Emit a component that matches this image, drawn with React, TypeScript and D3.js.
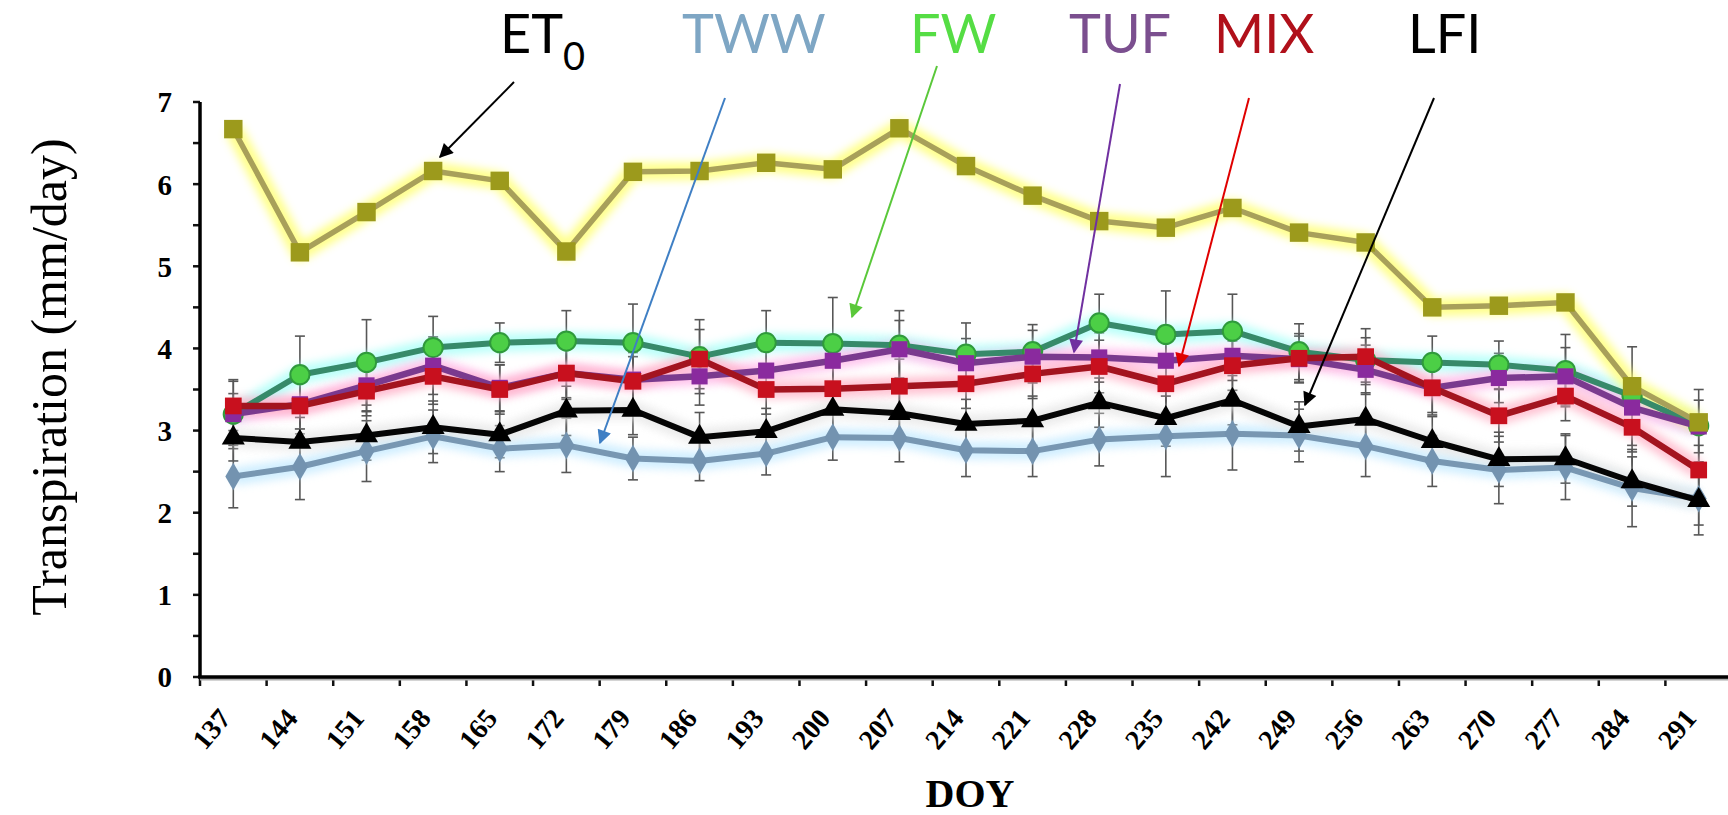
import React, { useEffect, useRef } from 'react';
import * as d3 from 'd3';

// day of year, one sample per week
const doy = [137, 144, 151, 158, 165, 172, 179, 186, 193, 200, 207, 214, 221, 228, 235, 242, 249, 256, 263, 270, 277, 284, 291];

const et0 = [6.67, 5.17, 5.66, 6.16, 6.04, 5.18, 6.15, 6.16, 6.26, 6.18, 6.68, 6.22, 5.86, 5.55, 5.47, 5.71, 5.41, 5.29, 4.5, 4.52, 4.56, 3.54, 3.1];
const fw = [3.2, 3.68, 3.83, 4.01, 4.07, 4.09, 4.07, 3.9, 4.07, 4.06, 4.04, 3.93, 3.96, 4.31, 4.17, 4.21, 3.96, 3.86, 3.83, 3.8, 3.73, 3.42, 3.06];
const tuf = [3.2, 3.32, 3.55, 3.79, 3.52, 3.7, 3.62, 3.66, 3.73, 3.85, 3.99, 3.82, 3.9, 3.89, 3.85, 3.91, 3.87, 3.74, 3.52, 3.64, 3.66, 3.28, 3.05];
const mix = [3.3, 3.3, 3.48, 3.66, 3.5, 3.7, 3.6, 3.87, 3.5, 3.51, 3.54, 3.57, 3.69, 3.78, 3.57, 3.79, 3.88, 3.9, 3.52, 3.18, 3.42, 3.04, 2.52];
const lfi = [2.91, 2.86, 2.94, 3.04, 2.95, 3.24, 3.25, 2.92, 2.99, 3.26, 3.21, 3.08, 3.12, 3.34, 3.15, 3.37, 3.05, 3.14, 2.87, 2.65, 2.66, 2.38, 2.15];
const tww = [2.44, 2.56, 2.75, 2.93, 2.78, 2.82, 2.66, 2.63, 2.72, 2.92, 2.91, 2.76, 2.75, 2.89, 2.93, 2.96, 2.94, 2.81, 2.63, 2.52, 2.55, 2.3, 2.17];

// standard deviations (error bars)
const fwErr = [0.42, 0.47, 0.52, 0.38, 0.24, 0.37, 0.47, 0.45, 0.39, 0.56, 0.42, 0.38, 0.33, 0.35, 0.53, 0.45, 0.34, 0.27, 0.32, 0.29, 0.44, 0.6, 0.44];
const tufErr = [0.25, 0.3, 0.32, 0.35, 0.28, 0.3, 0.33, 0.35, 0.3, 0.28, 0.35, 0.3, 0.32, 0.3, 0.36, 0.3, 0.28, 0.3, 0.33, 0.3, 0.35, 0.3, 0.32];
const mixErr = [0.3, 0.28, 0.3, 0.34, 0.3, 0.32, 0.3, 0.36, 0.3, 0.3, 0.33, 0.3, 0.3, 0.32, 0.35, 0.3, 0.3, 0.34, 0.3, 0.32, 0.3, 0.3, 0.3];
const lfiErr = [0.28, 0.3, 0.3, 0.32, 0.28, 0.3, 0.3, 0.3, 0.28, 0.3, 0.32, 0.3, 0.3, 0.3, 0.34, 0.3, 0.3, 0.32, 0.3, 0.33, 0.3, 0.3, 0.3];
const twwErr = [0.38, 0.4, 0.37, 0.32, 0.28, 0.33, 0.26, 0.24, 0.26, 0.28, 0.29, 0.32, 0.31, 0.32, 0.49, 0.44, 0.32, 0.37, 0.31, 0.41, 0.39, 0.47, 0.44];

const yTicks = [0, 1, 2, 3, 4, 5, 6, 7];

const series = [
  { name: 'TWW', values: tww, err: twwErr, line: '#7897b2', glow: '#c4eaff', fill: '#7393b0', symbol: d3.symbolDiamond, size: 220, lw: 6 },
  { name: 'LFI', values: lfi, err: lfiErr, line: '#050505', glow: '#e6e6e6', fill: '#000000', symbol: d3.symbolTriangle, size: 230, lw: 6 },
  { name: 'FW', values: fw, err: fwErr, line: '#378a6a', glow: '#a8fff8', fill: '#4ccf46', symbol: d3.symbolCircle, size: 290, lw: 6 },
  { name: 'TUF', values: tuf, err: tufErr, line: '#7a3a8e', glow: '#ffb8ea', fill: '#8a2a9e', symbol: d3.symbolSquare, size: 260, lw: 6.5 },
  { name: 'MIX', values: mix, err: mixErr, line: '#a3141f', glow: '#ffb4c8', fill: '#c8101e', symbol: d3.symbolSquare, size: 280, lw: 6.5 },
  { name: 'ET0', values: et0, err: null, line: '#a8a05a', glow: '#ffff70', fill: '#9c9a1c', symbol: d3.symbolSquare, size: 340, lw: 5.5 },
];

// call-out labels with their arrows
const callouts = [
  { label: 'ET', sub: '0', color: '#000000', arrow: '#000000', tx: 500, from: [514, 82], to: [440, 157] },
  { label: 'TWW', sub: '', color: '#7ea6c4', arrow: '#3f7fc4', tx: 682, from: [725, 98], to: [600, 443] },
  { label: 'FW', sub: '', color: '#55dd44', arrow: '#5ac83a', tx: 910, from: [937, 66], to: [852, 317] },
  { label: 'TUF', sub: '', color: '#7b4f8f', arrow: '#7030a0', tx: 1069, from: [1120, 84], to: [1074, 352] },
  { label: 'MIX', sub: '', color: '#b0101a', arrow: '#e00000', tx: 1214, from: [1249, 98], to: [1179, 366] },
  { label: 'LFI', sub: '', color: '#000000', arrow: '#000000', tx: 1408, from: [1434, 98], to: [1305, 405] },
];

export default function App() {
  const svgRef = useRef<SVGSVGElement>(null);

  useEffect(() => {
    if (!svgRef.current) return;
    const svg = d3.select(svgRef.current);
    svg.selectAll('*').remove();

    const x = d3.scaleBand<number>().domain(doy).range([200, 1732]).padding(0);
    const y = d3.scaleLinear().domain([0, 7]).range([677, 102]);
    const cx = (d: number) => (x(d) as number) + x.bandwidth() / 2;

    const defs = svg.append('defs');
    defs.append('filter')
      .attr('id', 'glow')
      .attr('x', '-10%').attr('y', '-50%').attr('width', '120%').attr('height', '200%')
      .append('feGaussianBlur')
      .attr('stdDeviation', 4);

    callouts.forEach((c, i) => {
      defs.append('marker')
        .attr('id', `head${i}`)
        .attr('viewBox', '0 0 10 10')
        .attr('refX', 9).attr('refY', 5)
        .attr('markerWidth', 8).attr('markerHeight', 7)
        .attr('markerUnits', 'strokeWidth')
        .attr('orient', 'auto')
        .append('path')
        .attr('d', 'M0,0 L10,5 L0,10 Z')
        .attr('fill', c.arrow);
    });

    svg.append('rect').attr('width', 1728).attr('height', 815).attr('fill', '#fff');

    // y axis
    const yMinor = d3.range(0, 7.01, 0.5);
    svg.append('g').selectAll('line')
      .data(yMinor)
      .enter().append('line')
      .attr('x1', 193).attr('x2', 200)
      .attr('y1', d => y(d)).attr('y2', d => y(d))
      .attr('stroke', '#111').attr('stroke-width', 2.5);

    svg.append('line')
      .attr('x1', 200).attr('x2', 200)
      .attr('y1', y(0)).attr('y2', y(7))
      .attr('stroke', '#000').attr('stroke-width', 3.5);

    svg.append('g').selectAll('text')
      .data(yTicks)
      .enter().append('text')
      .attr('x', 172).attr('y', d => y(d))
      .attr('dy', '0.36em')
      .attr('text-anchor', 'end')
      .attr('font-family', '"Liberation Serif", "DejaVu Serif", serif')
      .attr('font-weight', 'bold')
      .attr('font-size', 29)
      .text(d => d);

    svg.append('text')
      .attr('transform', 'translate(66,377) rotate(-90)')
      .attr('text-anchor', 'middle')
      .attr('font-family', '"Liberation Serif", serif')
      .attr('font-size', 50)
      .text('Transpiration (mm/day)');

    // x axis
    svg.append('g').selectAll('line')
      .data(d3.range(doy.length + 1))
      .enter().append('line')
      .attr('x1', i => 200 + i * x.step()).attr('x2', i => 200 + i * x.step())
      .attr('y1', 677).attr('y2', 686)
      .attr('stroke', '#111').attr('stroke-width', 2.5);

    svg.append('line')
      .attr('x1', 200).attr('x2', 1728)
      .attr('y1', 679).attr('y2', 679)
      .attr('stroke', '#aaa').attr('stroke-width', 3);
    svg.append('line')
      .attr('x1', 198).attr('x2', 1728)
      .attr('y1', 677).attr('y2', 677)
      .attr('stroke', '#000').attr('stroke-width', 3.5);

    svg.append('g').selectAll('text')
      .data(doy)
      .enter().append('text')
      .attr('transform', d => `translate(${cx(d) - 1},719) rotate(-50)`)
      .attr('text-anchor', 'end')
      .attr('font-family', '"Liberation Serif", serif')
      .attr('font-weight', 'bold')
      .attr('font-size', 28)
      .text(d => d);

    svg.append('text')
      .attr('x', 970).attr('y', 807)
      .attr('text-anchor', 'middle')
      .attr('font-family', '"Liberation Serif", serif')
      .attr('font-weight', 'bold')
      .attr('font-size', 40)
      .text('DOY');

    // error bars
    const eb = svg.append('g').attr('stroke', '#3a3a3a').attr('stroke-width', 1.6).attr('opacity', 0.85);
    series.filter(s => s.err).forEach(s => {
      s.values.forEach((v, i) => {
        const e = (s.err as number[])[i];
        const xc = cx(doy[i]);
        eb.append('line').attr('x1', xc).attr('x2', xc).attr('y1', y(v - e)).attr('y2', y(v + e));
        eb.append('line').attr('x1', xc - 5).attr('x2', xc + 5).attr('y1', y(v - e)).attr('y2', y(v - e));
        eb.append('line').attr('x1', xc - 5).attr('x2', xc + 5).attr('y1', y(v + e)).attr('y2', y(v + e));
      });
    });

    const line = d3.line<number>()
      .x((_, i) => cx(doy[i]))
      .y(d => y(d));

    // glows first, then lines and markers
    series.forEach(s => {
      svg.append('path')
        .attr('d', line(s.values))
        .attr('fill', 'none')
        .attr('stroke', s.glow)
        .attr('stroke-width', 18)
        .attr('stroke-linejoin', 'round')
        .attr('opacity', 0.8)
        .attr('filter', 'url(#glow)');
    });

    series.forEach(s => {
      svg.append('path')
        .attr('d', line(s.values))
        .attr('fill', 'none')
        .attr('stroke', s.line)
        .attr('stroke-width', s.lw)
        .attr('stroke-linejoin', 'round');

      svg.append('g').selectAll('path')
        .data(s.values)
        .enter().append('path')
        .attr('transform', (d, i) => `translate(${cx(doy[i])},${y(d)})`)
        .attr('d', d3.symbol().type(s.symbol).size(s.size)())
        .attr('fill', s.fill)
        .attr('stroke', s.name === 'FW' ? '#2f9a3c' : 'none')
        .attr('stroke-width', 2);
    });

    // call-out labels
    callouts.forEach((c, i) => {
      svg.append('line')
        .attr('x1', c.from[0]).attr('y1', c.from[1])
        .attr('x2', c.to[0]).attr('y2', c.to[1])
        .attr('stroke', c.arrow)
        .attr('stroke-width', 2)
        .attr('marker-end', `url(#head${i})`);

      const t = svg.append('text')
        .attr('x', c.tx).attr('y', 53)
        .attr('font-family', 'Lato, "Open Sans", sans-serif')
        .attr('font-size', 54)
        .attr('fill', c.color)
        .text(c.label);
      if (c.sub) {
        t.append('tspan')
          .attr('font-size', 38)
          .attr('dy', 17)
          .text(c.sub);
      }
    });
  }, []);

  return (
    <svg
      ref={svgRef}
      width={1728}
      height={815}
      style={{ position: 'absolute', left: 0, top: 0 }}
    />
  );
}
